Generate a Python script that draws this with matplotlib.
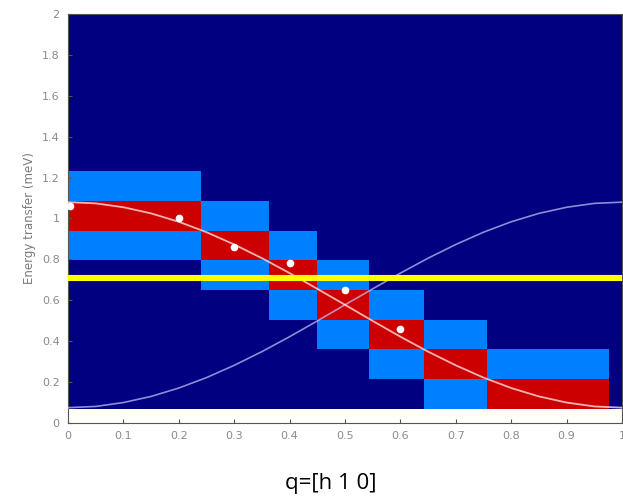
import numpy as np
import matplotlib
matplotlib.use("Agg")
import matplotlib.pyplot as plt
from matplotlib.colors import ListedColormap, BoundaryNorm

# ---- data ----
q_edges = [0.0, 0.24, 0.362, 0.45, 0.543, 0.643, 0.757, 0.977, 1.0]
e_edges = [0.07, 0.215, 0.36, 0.505, 0.65, 0.795, 0.94, 1.085, 1.23, 2.0]
# intensity level per (energy row, q column): 0 = none, 1 = weak, 2 = strong
intensity = [
    [0, 0, 0, 0, 0, 1, 2, 0],
    [0, 0, 0, 0, 1, 2, 1, 0],
    [0, 0, 0, 1, 2, 1, 0, 0],
    [0, 0, 1, 2, 1, 0, 0, 0],
    [0, 1, 2, 1, 0, 0, 0, 0],
    [1, 2, 1, 0, 0, 0, 0, 0],
    [2, 1, 0, 0, 0, 0, 0, 0],
    [1, 0, 0, 0, 0, 0, 0, 0],
    [0, 0, 0, 0, 0, 0, 0, 0],
]

q_curve = [0.0, 0.05, 0.1, 0.15, 0.2, 0.25, 0.3, 0.35, 0.4, 0.45, 0.5,
           0.55, 0.6, 0.65, 0.7, 0.75, 0.8, 0.85, 0.9, 0.95, 1.0]
e_down = [1.08, 1.074, 1.055, 1.025, 0.984, 0.933, 0.873, 0.806, 0.733, 0.656, 0.578,
          0.499, 0.422, 0.349, 0.282, 0.222, 0.171, 0.130, 0.100, 0.081, 0.075]
e_up = [0.075, 0.081, 0.100, 0.130, 0.171, 0.222, 0.282, 0.349, 0.422, 0.499, 0.578,
        0.656, 0.733, 0.806, 0.873, 0.933, 0.984, 1.025, 1.055, 1.074, 1.08]

q_points = [0.004, 0.2, 0.3, 0.4, 0.5, 0.6]
e_points = [1.063, 1.0, 0.862, 0.78, 0.65, 0.458]

cut_energy = 0.71

x_ticks = [0, 0.1, 0.2, 0.3, 0.4, 0.5, 0.6, 0.7, 0.8, 0.9, 1.0]
x_ticklabels = ["0", "0.1", "0.2", "0.3", "0.4", "0.5", "0.6", "0.7", "0.8", "0.9", "1"]
y_ticks = [0, 0.2, 0.4, 0.6, 0.8, 1.0, 1.2, 1.4, 1.6, 1.8, 2.0]
y_ticklabels = ["0", "0.2", "0.4", "0.6", "0.8", "1", "1.2", "1.4", "1.6", "1.8", "2"]

# ---- figure ----
fig = plt.figure(figsize=(6.23, 4.99), dpi=100)
fig.patch.set_facecolor("white")
ax = fig.add_axes([68 / 623, 76 / 499, 554 / 623, 409 / 499])
ax.set_facecolor("#fffffa")

cmap = ListedColormap(["#000080", "#0080ff", "#cc0000"])
norm = BoundaryNorm([-0.5, 0.5, 1.5, 2.5], cmap.N)
ax.pcolormesh(q_edges, e_edges, np.array(intensity), cmap=cmap, norm=norm,
              shading="flat", zorder=1)

ax.plot(q_curve, e_up, color="#c8c8ff", alpha=0.7, lw=1.2, zorder=3)
ax.plot(q_curve, e_down, color="#ffe0e0", alpha=0.8, lw=1.3, zorder=3)
ax.plot(q_points, e_points, "o", color="white", ms=4.5, mec="white", zorder=4,
        clip_on=False)
ax.axhline(cut_energy, color="#ffff00", lw=4.4, zorder=5)

ax.set_xlim(0, 1)
ax.set_ylim(0, 2)
ax.set_xticks(x_ticks)
ax.set_xticklabels(x_ticklabels)
ax.set_yticks(y_ticks)
ax.set_yticklabels(y_ticklabels)
ax.tick_params(direction="in", length=3, width=0.8, colors="#555555",
               labelcolor="#8a8a8a", labelsize=8, pad=6)
for s in ax.spines.values():
    s.set_color("#555555")
    s.set_linewidth(0.8)

ax.set_ylabel("Energy transfer (meV)", color="#7a7a7a", fontsize=8.5, labelpad=4)
fig.text(331 / 623, 1 - 484 / 499, "q=[h 1 0]", ha="center", va="center",
         fontsize=16, color="black", family=["Open Sans", "DejaVu Sans"])

fig.savefig("out.png", dpi=100)
